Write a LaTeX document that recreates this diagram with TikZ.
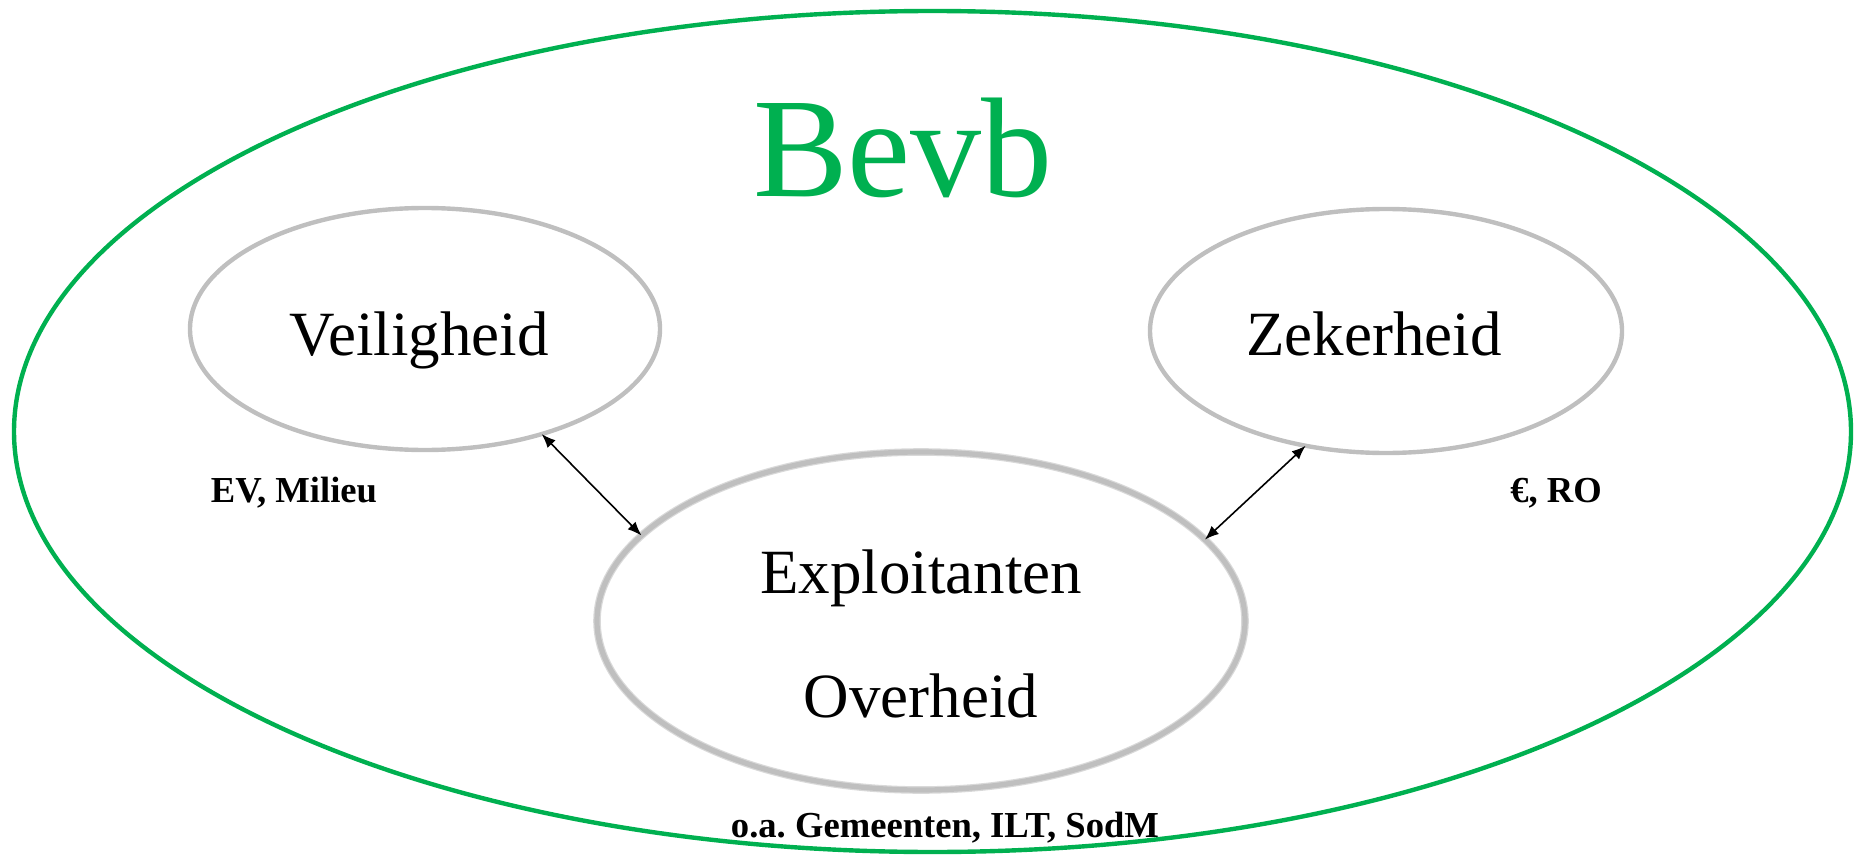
\documentclass[tikz,border=0pt]{standalone}
\usepackage{fontspec}
\setmainfont{Liberation Serif}
\usetikzlibrary{shapes.geometric,arrows.meta}
\definecolor{bevbgreen}{HTML}{00B050}
\definecolor{ringgray}{HTML}{BFBFBF}
\frenchspacing
\tikzset{
  ring/.style={ellipse, draw=ringgray, line width=2.2pt, inner sep=0pt, outer sep=0pt},
  bigtext/.style={font=\fontsize{31.5}{38}\selectfont, anchor=base, inner sep=0pt},
  smalllabel/.style={font=\bfseries\fontsize{18.3}{22}\selectfont, anchor=base, inner sep=0pt},
  link/.style={{Latex[length=7pt,width=5.5pt]}-{Latex[length=7pt,width=5.5pt]}, line width=0.8pt, black}
}
\begin{document}
\begin{tikzpicture}[x=0.5pt,y=-0.5pt]
\useasboundingbox (0,0) rectangle (1854,856);
% outer green ellipse
\node[ellipse, draw=bevbgreen, line width=2.2pt, inner sep=0pt, outer sep=0pt,
      minimum width=918.5pt, minimum height=420.5pt] (outer) at (932.5,431.5) {};
\node[font=\fontsize{71}{80}\selectfont, text=bevbgreen, anchor=base, inner sep=0pt] (bevb) at (903,197) {Bevb};
% inner ellipses
\node[ring, minimum width=235pt, minimum height=121pt] (V) at (425,329) {};
\node[ring, minimum width=236pt, minimum height=122pt] (Z) at (1386,331) {};
\node[ellipse, draw=ringgray!60, line width=3.8pt, inner sep=0pt, outer sep=0pt,
      minimum width=324pt, minimum height=169pt] (Eshadow) at (921,621) {};
\node[ring, line width=2.6pt, minimum width=324pt, minimum height=169pt] (E) at (921,621) {};
% texts
\node[bigtext] (vt) at (419,355) {Veiligheid};
\node[bigtext] (zt) at (1374,355) {Zekerheid};
\node[bigtext] (et) at (921,593) {Exploitanten};
\node[bigtext] (ot) at (921,717) {Overheid};
\node[smalllabel] (ev) at (294,502) {EV, Milieu};
\node[smalllabel] (eur) at (1556,502) {€, RO};
\node[smalllabel] (oa) at (945,837) {o.a. Gemeenten, ILT, SodM};
% connectors
\draw[link] (V.-42) -- (E.163);
\draw[link] (E.16.6) -- (Z.-125.6);
\end{tikzpicture}
\end{document}
